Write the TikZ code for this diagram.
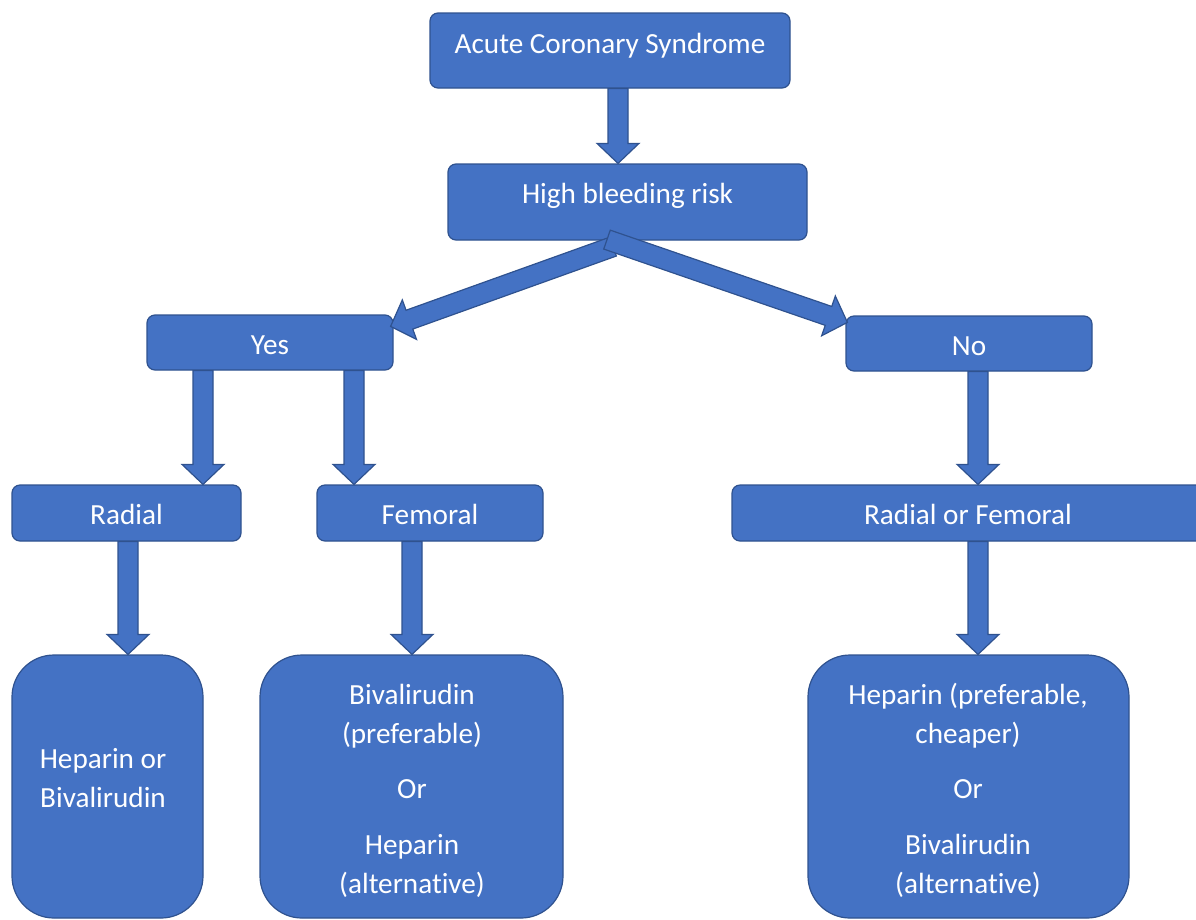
\documentclass[tikz,border=0pt]{standalone}
\usepackage{fontspec}
\setmainfont{Carlito}[Ligatures=NoCommon]
\usetikzlibrary{calc}
\definecolor{boxfill}{HTML}{4472C4}
\definecolor{boxline}{HTML}{2F528F}
\tikzset{
  box/.style={rectangle, rounded corners=8pt, fill=boxfill, draw=boxline, line width=1.2pt, inner sep=0pt},
  bigbox/.style={box, rounded corners=42pt},
  txt/.style={text=white, font=\fontsize{29.2}{38.8}\selectfont, anchor=base, inner sep=0pt, align=center},
  blockarrow/.style={fill=boxfill, draw=boxline, line width=1.2pt, line join=miter}
}
\newcommand\blockarr[2]{%
  \coordinate (bah) at ($(#2)!20pt!(#1)$);
  \path[blockarrow] ($(#1)!10pt!90:(#2)$) -- ($(bah)!10pt!-90:(#1)$) -- ($(bah)!21pt!-90:(#1)$) -- (#2)
     -- ($(bah)!21pt!90:(#1)$) -- ($(bah)!10pt!90:(#1)$) -- ($(#1)!10pt!-90:(#2)$) -- cycle;
}
\begin{document}
\begin{tikzpicture}[x=1pt,y=-1pt]
\useasboundingbox (0,0) rectangle (1196,919);
% boxes
\node[box, minimum width=360pt, minimum height=75pt] (acs) at (610,50.5) {};
\node[box, minimum width=359pt, minimum height=76pt] (hbr) at (627.5,202) {};
\node[box, minimum width=246pt, minimum height=55pt] (yes) at (270,342.5) {};
\node[box, minimum width=246pt, minimum height=55pt] (no) at (969,343.5) {};
\node[box, minimum width=229pt, minimum height=56pt] (radial) at (126.5,513) {};
\node[box, minimum width=226pt, minimum height=56pt] (femoral) at (430,513) {};
\node[box, minimum width=472pt, minimum height=56pt] (rof) at (968,513) {};
\node[bigbox, minimum width=191pt, minimum height=263pt] (hb) at (107.5,786.5) {};
\node[bigbox, minimum width=303pt, minimum height=263pt] (biv) at (411.5,786.5) {};
\node[bigbox, minimum width=321pt, minimum height=263pt] (hep) at (968.5,786.5) {};
% texts (base anchor = last line's baseline)
\node[txt] (acst) at (610,53) {Acute Coronary Syndrome};
\node[txt] (hbrt) at (627.5,203) {High bleeding risk};
\node[txt] (yest) at (270,354) {Yes};
\node[txt] (not) at (969,355) {No};
\node[txt] (radialt) at (126.5,524) {Radial};
\node[txt] (femoralt) at (430,524) {Femoral};
\node[txt] (roft) at (968,524) {Radial or Femoral};
\node[txt] (hbt) at (103,807) {Heparin or\\Bivalirudin};
\node[txt] (bivt) at (412,893) {Bivalirudin\\(preferable)\\[16pt]Or\\[17pt]Heparin\\(alternative)};
\node[txt] (hept) at (968,893) {Heparin (preferable,\\cheaper)\\[16pt]Or\\[17pt]Bivalirudin\\(alternative)};
% arrow end points
\coordinate (a1s) at ($(acs.south)+(8,0)$);
\coordinate (a1e) at ($(hbr.north)+(-9.5,0)$);
\coordinate (a2s) at ($(hbr.south)+(-14.5,6)$);
\coordinate (a2e) at ($(yes.north east)+(-3,12)$);
\coordinate (a3s) at ($(hbr.south)+(-20.5,-1)$);
\coordinate (a3e) at ($(no.north west)+(2,7)$);
\coordinate (a4s) at ($(yes.south)+(-67,0)$);
\coordinate (a4e) at ($(radial.north)+(76.5,0)$);
\coordinate (a5s) at ($(yes.south)+(84,0)$);
\coordinate (a5e) at ($(femoral.north)+(-76,0)$);
\coordinate (a6s) at ($(no.south)+(9,0)$);
\coordinate (a6e) at ($(rof.north)+(10,0)$);
\coordinate (a7s) at ($(radial.south)+(1.5,0)$);
\coordinate (a7e) at ($(hb.north)+(20.5,0)$);
\coordinate (a8s) at ($(femoral.south)+(-18,0)$);
\coordinate (a8e) at ($(biv.north)+(0.5,0)$);
\coordinate (a9s) at ($(rof.south)+(10,0)$);
\coordinate (a9e) at ($(hep.north)+(9.5,0)$);
% arrows
\blockarr{a1s}{a1e}
\blockarr{a2s}{a2e}
\blockarr{a3s}{a3e}
\blockarr{a4s}{a4e}
\blockarr{a5s}{a5e}
\blockarr{a6s}{a6e}
\blockarr{a7s}{a7e}
\blockarr{a8s}{a8e}
\blockarr{a9s}{a9e}
\end{tikzpicture}
\end{document}
